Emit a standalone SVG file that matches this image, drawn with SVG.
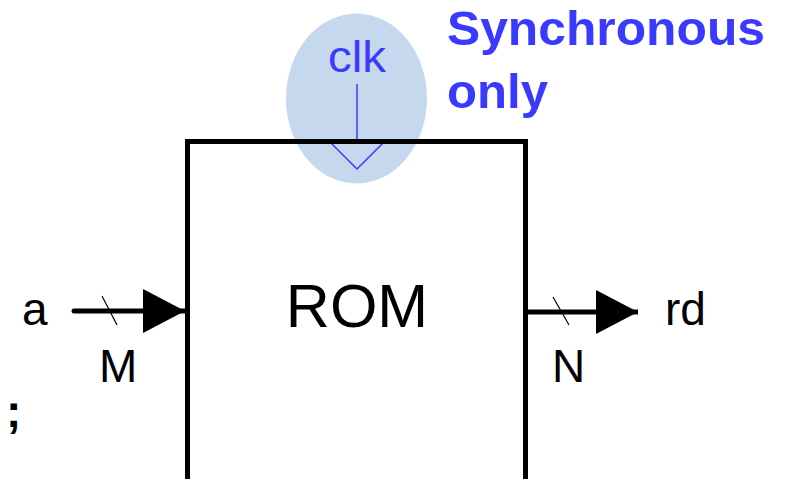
<svg xmlns="http://www.w3.org/2000/svg" width="786" height="479" viewBox="0 0 786 479">
<style>
text{font-family:"Liberation Sans",Arial,sans-serif}
.lbl{font-size:46px;fill:#000}
.bus{stroke:#000;stroke-width:5;fill:none}
.tick{stroke:#000;stroke-width:1.2}
.blue{fill:#3a3aff;font-weight:bold;font-size:48px}
</style>
<defs>
<marker id="ah" markerUnits="userSpaceOnUse" markerWidth="44" markerHeight="46" refX="42" refY="22" orient="auto">
<path d="M0,0 L42,22 L0,44 Z" fill="#000"/>
</marker>
</defs>
<g id="clk">
<ellipse cx="356.5" cy="98.5" rx="70.5" ry="85" fill="#c6d8ee"/>
<text x="328" y="72" font-size="45" fill="#3a3aff" textLength="58" lengthAdjust="spacingAndGlyphs">clk</text>
<line x1="357" y1="84" x2="357" y2="142" stroke="#3a3aff" stroke-width="1.5"/>
<path d="M328,140 L357,169 L386,140" fill="none" stroke="#3a3aff" stroke-width="1.5"/>
</g>
<g id="rom">
<rect x="187.5" y="141.5" width="338" height="360" fill="none" stroke="#000" stroke-width="5"/>
<text x="357" y="327" font-size="61" text-anchor="middle">ROM</text>
</g>
<g id="note">
<text class="blue" x="447" y="45" textLength="318" lengthAdjust="spacingAndGlyphs">Synchronous</text>
<text class="blue" x="447" y="108" textLength="101" lengthAdjust="spacingAndGlyphs">only</text>
</g>
<g id="in-a">
<text class="lbl" x="22" y="325">a</text>
<text class="lbl" x="99" y="382">M</text>
<text x="6" y="427" font-size="46" font-weight="bold">;</text>
</g>
<g id="out-rd">
<text class="lbl" x="665" y="325">rd</text>
<text class="lbl" x="552" y="382">N</text>
</g>
<g id="connectors">
<line class="bus" x1="74" y1="311" x2="185" y2="311" stroke-linecap="round" marker-end="url(#ah)"/>
<line class="tick" x1="102" y1="296" x2="117" y2="325"/>
<line class="bus" x1="527" y1="312" x2="638" y2="312" marker-end="url(#ah)"/>
<line class="tick" x1="553" y1="297" x2="569" y2="325"/>
</g>
</svg>
